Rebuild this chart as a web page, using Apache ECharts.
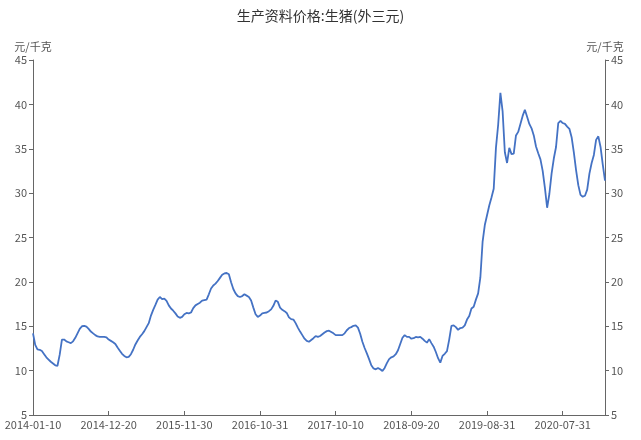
<!DOCTYPE html>
<html>
<head>
<meta charset="utf-8">
<script src="https://cdn.jsdelivr.net/npm/echarts@6/dist/echarts.min.js"></script>
<style>
  html, body { margin: 0; padding: 0; background: #fff; }
  #chart { width: 641px; height: 440px; }
</style>
</head>
<body>
<div id="chart"></div>
<script>
// 旬度数据：每月10日、20日、月末（闰年2月多一个28日）
const startYear = 2014;
const endDate = "2021-02-10";
const skipLabelEvery = 33;

const yTicks = { min: 5, max: 45, interval: 5 };

// 生猪(外三元) 价格，元/千克
const priceValues = [
  14.2, 12.9, 12.4, 12.35, 12.2, 11.85, 11.5, 11.25, 11.0, 10.8,
  10.6, 10.55, 11.8, 13.5, 13.5, 13.3, 13.2, 13.1, 13.3, 13.7,
  14.2, 14.7, 15.0, 15.05, 14.95, 14.7, 14.4, 14.2, 14.0, 13.85,
  13.8, 13.8, 13.8, 13.75, 13.5, 13.35, 13.2, 13.0, 12.6, 12.25,
  11.9, 11.65, 11.5, 11.55, 11.85, 12.35, 12.95, 13.4, 13.8, 14.1,
  14.45, 14.9, 15.35, 16.2, 16.85, 17.4, 18.0, 18.3, 18.05, 18.1,
  17.85, 17.35, 17.0, 16.75, 16.45, 16.1, 15.95, 16.05, 16.35, 16.5,
  16.45, 16.55, 17.05, 17.35, 17.5, 17.65, 17.9, 17.95, 18.0, 18.6,
  19.25, 19.6, 19.8, 20.1, 20.45, 20.8, 20.95, 21.0, 20.85, 19.95,
  19.2, 18.7, 18.4, 18.3, 18.4, 18.6, 18.45, 18.3, 17.9, 17.1,
  16.35, 16.05, 16.2, 16.45, 16.5, 16.55, 16.7, 16.9, 17.3, 17.9,
  17.75, 17.1, 16.85, 16.7, 16.5, 16.0, 15.8, 15.75, 15.35, 14.85,
  14.4, 14.0, 13.6, 13.35, 13.25, 13.45, 13.65, 13.9, 13.8, 13.9,
  14.1, 14.3, 14.45, 14.5, 14.35, 14.2, 14.0, 14.0, 14.0, 14.0,
  14.2, 14.55, 14.8, 14.9, 15.05, 15.1, 14.85, 14.15, 13.25, 12.55,
  11.95, 11.3, 10.6, 10.25, 10.15, 10.3, 10.15, 9.95, 10.3, 10.85,
  11.3, 11.5, 11.6, 11.85, 12.3, 13.0, 13.7, 14.0, 13.8, 13.8,
  13.6, 13.65, 13.8, 13.75, 13.8, 13.6, 13.35, 13.15, 13.55, 13.1,
  12.7, 12.1, 11.4, 10.9, 11.65, 11.9, 12.2, 13.5, 15.05, 15.1,
  14.9, 14.6, 14.8, 14.85, 15.1, 15.75, 16.15, 17.0, 17.2, 18.0,
  18.7, 20.5, 24.5, 26.4, 27.5, 28.6, 29.5, 30.5, 35.1, 37.7,
  41.3, 39.2, 34.6, 33.4, 35.1, 34.4, 34.45, 36.5, 36.9, 37.8,
  38.7, 39.4, 38.6, 37.8, 37.3, 36.5, 35.25, 34.5, 33.8, 32.5,
  30.6, 28.35, 29.9, 32.2, 33.9, 35.2, 37.9, 38.15, 37.9, 37.8,
  37.5, 37.25, 36.3, 34.6, 32.6, 30.9, 29.8, 29.6, 29.7, 30.4,
  32.2, 33.4, 34.3, 36.0, 36.4, 35.2, 33.2, 31.4
];

function pad(n) { return n < 10 ? "0" + n : "" + n; }

function buildDates() {
  const out = [];
  for (let y = startYear; y <= 2021; y++) {
    for (let m = 1; m <= 12; m++) {
      const last = new Date(y, m, 0).getDate();
      const days = [10, 20];
      if (m === 2 && last === 29) days.push(28);
      days.push(last);
      for (const d of days) {
        const s = `${y}-${pad(m)}-${pad(d)}`;
        out.push(s);
        if (s === endDate) return out;
      }
    }
  }
  return out;
}

const dates = buildDates().slice(0, priceValues.length);

const labelFont = "'Noto Sans CJK SC', 'Noto Sans', sans-serif";
const axisColor = "#666";

const yAxisBase = {
  type: "value",
  min: yTicks.min,
  max: yTicks.max,
  interval: yTicks.interval,
  name: "元/千克",
  nameGap: 8,
  nameTextStyle: { color: "#555", fontSize: 11, fontFamily: labelFont },
  axisLine: { show: true, lineStyle: { color: axisColor } },
  axisTick: { show: true, length: 4, lineStyle: { color: axisColor } },
  axisLabel: { color: "#555", fontSize: 11, fontFamily: labelFont, margin: 6 },
  splitLine: { show: false }
};

const chart = echarts.init(document.getElementById("chart"));
chart.setOption({
  animation: false,
  backgroundColor: "#fff",
  title: {
    text: "生产资料价格:生猪(外三元)",
    left: "center",
    top: 4,
    textStyle: { color: "#333", fontSize: 14, fontWeight: "normal", fontFamily: labelFont }
  },
  grid: { left: 33, right: 36, top: 60, bottom: 25, containLabel: false },
  xAxis: {
    type: "category",
    data: dates,
    boundaryGap: false,
    axisLine: { lineStyle: { color: axisColor } },
    axisTick: { show: true, inside: true, length: 4, interval: skipLabelEvery, lineStyle: { color: axisColor } },
    axisLabel: { color: "#555", fontSize: 11, fontFamily: labelFont, interval: skipLabelEvery, margin: 4 },
    splitLine: { show: false }
  },
  yAxis: [
    Object.assign({}, yAxisBase, { position: "left" }),
    Object.assign({}, yAxisBase, { position: "right" })
  ],
  series: [
    {
      name: "生猪(外三元)",
      type: "line",
      data: priceValues,
      yAxisIndex: 0,
      showSymbol: false,
      smooth: false,
      lineStyle: { color: "#4472c4", width: 1.8 },
      itemStyle: { color: "#4472c4" }
    }
  ]
});
</script>
</body>
</html>
